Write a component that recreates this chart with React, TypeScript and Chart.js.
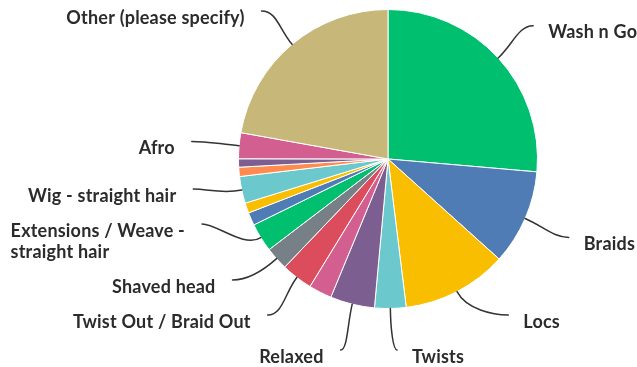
import React, { useEffect, useRef } from "react";
import { Chart, registerables } from "chart.js";

Chart.register(...registerables);

// Slice names in drawing order (clockwise from 12 o'clock). Empty names = slices whose label is hidden in the reference.
const categories: string[] = [
  "Wash n Go",
  "Braids",
  "Locs",
  "Twists",
  "Relaxed",
  "",
  "Twist Out / Braid Out",
  "Shaved head",
  "Extensions / Weave - straight hair",
  "",
  "",
  "Wig - straight hair",
  "",
  "",
  "Afro",
  "Other (please specify)",
];

// Share of responses (%)
const values: number[] = [26.4, 10.3, 11.4, 3.4, 4.8, 2.5, 3.4, 2.5, 3.1, 1.4, 1.1, 2.9, 1.0, 0.9, 2.8, 22.2];

const colors: string[] = [
  "#00BF6F",
  "#507CB6",
  "#F9BE00",
  "#6BC8CD",
  "#7D5E90",
  "#D25F90",
  "#DB4D5C",
  "#768086",
  "#00BF6F",
  "#507CB6",
  "#F9BE00",
  "#6BC8CD",
  "#FF8B4F",
  "#7D5E90",
  "#D25F90",
  "#C7B879",
];

const FONT = "bold 18px Lato, 'Open Sans', sans-serif";
const LETTER_SPACING = "0.2px";
const TEXT_COLOR = "#2b2b2b";
const LINE_COLOR = "#333333";
const LABEL_OFFSET = 47.5; // distance of label anchor beyond the pie edge
const LINE_H = 21;
const SLOT = 35;
const GAP_RIGHT = 15;
const GAP_LEFT = 17;
const WRAP_TOLERANCE = 8;

function wrap(ctx: CanvasRenderingContext2D, text: string, maxW: number): string[] {
  const words = text.split(" ");
  const lines: string[] = [];
  let cur = "";
  for (const w of words) {
    const t = cur ? cur + " " + w : w;
    if (cur && ctx.measureText(t).width > maxW) {
      lines.push(cur);
      cur = w;
    } else cur = t;
  }
  if (cur) lines.push(cur);
  return lines;
}

const leaderLabels = {
  id: "leaderLabels",
  afterDatasetsDraw(chart: any) {
    const ctx: CanvasRenderingContext2D = chart.ctx;
    const meta = chart.getDatasetMeta(0);
    const W = chart.width;
    const H = chart.height;
    ctx.save();
    ctx.font = FONT;
    (ctx as any).letterSpacing = LETTER_SPACING;
    const items: any[] = [];
    meta.data.forEach((arc: any, i: number) => {
      const text = categories[i];
      if (!text) return;
      const p = arc.getProps(["x", "y", "startAngle", "endAngle", "outerRadius"], true);
      const mid = (p.startAngle + p.endAngle) / 2;
      const R = p.outerRadius + LABEL_OFFSET;
      const right = Math.cos(mid) >= 0;
      const ax = p.x + Math.cos(mid) * R;
      const ay = p.y + Math.sin(mid) * R;
      const avail = (right ? W - (ax + GAP_RIGHT) : ax - GAP_LEFT) + WRAP_TOLERANCE;
      items.push({
        cx: p.x,
        cy: p.y,
        r: p.outerRadius,
        R,
        mid,
        right,
        ax,
        ay,
        x: ax,
        y: ay,
        pushed: false,
        lines: wrap(ctx, text, avail),
      });
    });

    const topY = 11;
    for (const side of [true, false]) {
      const list = items.filter((it) => it.right === side).sort((a, b) => a.ay - b.ay);
      list.forEach((it) => {
        const maxY = H - 17 - LINE_H * (it.lines.length - 1);
        it.y = Math.max(Math.min(it.ay, maxY), topY);
        // labels held back by the bottom edge slide outward a little
        const clamp = it.ay - it.y;
        if (clamp > 0) it.x = it.ax + (side ? clamp : -clamp);
      });
      for (let k = list.length - 2; k >= 0; k--) {
        const lower = list[k + 1];
        const upper = list[k];
        const lim = lower.y - SLOT - LINE_H * (upper.lines.length - 1);
        if (upper.y > lim) {
          upper.y = lim;
          upper.pushed = true;
        }
      }
      if (list.length && list[0].y < topY) {
        list[0].y = topY;
        for (let k = 1; k < list.length; k++) {
          const upper = list[k - 1];
          const lower = list[k];
          const lim = upper.y + SLOT + LINE_H * (upper.lines.length - 1);
          if (lower.y < lim) {
            lower.y = lim;
            lower.pushed = true;
          }
        }
      }
      list.forEach((it) => {
        if (it.pushed) {
          const dy = it.y - it.cy;
          const dx = Math.sqrt(Math.max(it.R * it.R - dy * dy, 0));
          it.x = it.cx + (side ? dx : -dx);
        }
      });
    }

    // leader lines
    ctx.strokeStyle = LINE_COLOR;
    ctx.lineWidth = 1.5;
    ctx.lineCap = "round";
    items.forEach((it) => {
      const ex = it.cx + Math.cos(it.mid) * it.r;
      const ey = it.cy + Math.sin(it.mid) * it.r;
      const c1x = ex + Math.cos(it.mid) * 20;
      const c1y = ey + Math.sin(it.mid) * 20;
      const k2 = Math.min(15, Math.abs(it.x - ex) * 0.6);
      const c2x = it.x + (it.right ? -k2 : k2);
      const c2y = it.y;
      ctx.beginPath();
      ctx.moveTo(ex, ey);
      ctx.bezierCurveTo(c1x, c1y, c2x, c2y, it.x, it.y);
      ctx.stroke();
    });

    // texts (multi-line blocks are left-aligned)
    ctx.fillStyle = TEXT_COLOR;
    ctx.textBaseline = "alphabetic";
    ctx.textAlign = "left";
    items.forEach((it) => {
      const blockW = Math.max(...it.lines.map((ln: string) => ctx.measureText(ln).width));
      const tx = it.right ? it.x + GAP_RIGHT : it.x - GAP_LEFT - blockW;
      it.lines.forEach((ln: string, j: number) => {
        ctx.fillText(ln, tx, it.y + 12.5 + LINE_H * j);
      });
    });
    ctx.restore();
  },
};

export default function App() {
  const ref = useRef<HTMLCanvasElement>(null);
  useEffect(() => {
    document.body.style.margin = "0";
    const chart = new Chart(ref.current as HTMLCanvasElement, {
      type: "pie",
      data: {
        labels: categories,
        datasets: [
          {
            data: values,
            backgroundColor: colors,
            borderColor: "#ffffff",
            borderWidth: 1,
          },
        ],
      },
      options: {
        responsive: false,
        animation: false,
        devicePixelRatio: 1,
        layout: { padding: { left: 238, right: 99, top: 9, bottom: 58 } },
        plugins: { legend: { display: false }, tooltip: { enabled: false } },
      },
      plugins: [leaderLabels],
    } as any);
    return () => chart.destroy();
  }, []);
  return (
    <div style={{ position: "fixed", left: 0, top: 0, width: 637, height: 367, background: "#fff" }}>
      <canvas ref={ref} width={637} height={367} style={{ display: "block", width: 637, height: 367 }} />
    </div>
  );
}
